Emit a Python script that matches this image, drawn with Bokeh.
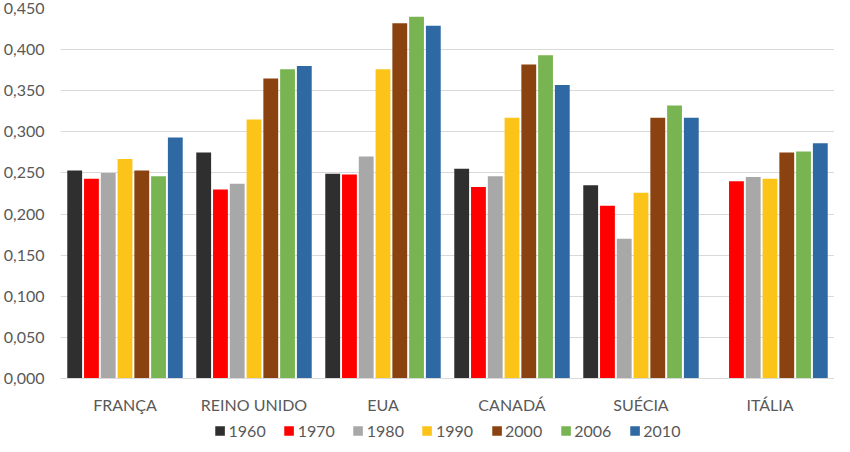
import math
from bokeh.plotting import figure
from bokeh.layouts import column
from bokeh.models import (ColumnDataSource, FactorRange, FixedTicker, Range1d,
                          CustomJSTickFormatter, Legend, LegendItem)
from bokeh.transform import dodge
from bokeh.embed import file_html
from bokeh.resources import INLINE

nan = float("nan")

countries = ["FRANÇA", "REINO UNIDO", "EUA", "CANADÁ", "SUÉCIA", "ITÁLIA"]
years = ["1960", "1970", "1980", "1990", "2000", "2006", "2010"]

v1960 = [0.253, 0.275, 0.249, 0.255, 0.235, nan]
v1970 = [0.243, 0.230, 0.248, 0.233, 0.210, 0.240]
v1980 = [0.250, 0.237, 0.270, 0.246, 0.170, 0.245]
v1990 = [0.267, 0.315, 0.376, 0.317, 0.226, 0.243]
v2000 = [0.253, 0.365, 0.432, 0.382, 0.317, 0.275]
v2006 = [0.246, 0.376, 0.440, 0.393, 0.332, 0.276]
v2010 = [0.293, 0.380, 0.429, 0.357, 0.317, 0.286]

y_ticks = [0.0, 0.05, 0.10, 0.15, 0.20, 0.25, 0.30, 0.35, 0.40, 0.45]

colors = ["#2f2f2f", "#ff0000", "#a8a8a8", "#fcc419", "#8a4310", "#78b552", "#2f69a3"]

series = [v1960, v1970, v1980, v1990, v2000, v2006, v2010]
data = {"country": countries}
for y, s in zip(years, series):
    data["y" + y] = s
source = ColumnDataSource(data)

FONT = "Lato"
TXT = "#595959"

p = figure(x_range=FactorRange(*countries), y_range=Range1d(0, 0.45),
           width=834, height=416, output_backend="svg", toolbar_location=None,
           min_border_left=52, min_border_right=0, min_border_top=8, min_border_bottom=0)

step = 0.13
for i, (y, c) in enumerate(zip(years, colors)):
    p.vbar(x=dodge("country", (i - 3) * step, range=p.x_range), top="y" + y,
           width=0.115, source=source, fill_color=c, line_color=None)

p.outline_line_color = None
p.background_fill_color = "white"
p.border_fill_color = "white"

p.xgrid.grid_line_color = None
p.ygrid.grid_line_color = "#d9d9d9"
p.ygrid.grid_line_width = 1

p.yaxis.ticker = FixedTicker(ticks=y_ticks)
p.yaxis.formatter = CustomJSTickFormatter(code="return tick.toFixed(3).replace('.', ',');")
p.yaxis.axis_line_color = None
p.yaxis.major_tick_line_color = None
p.yaxis.minor_tick_line_color = None
p.yaxis.major_label_standoff = 10
p.yaxis.major_label_text_font = FONT
p.yaxis.major_label_text_font_size = "16px"
p.yaxis.major_label_text_color = TXT

p.xaxis.axis_line_color = "#d9d9d9"
p.xaxis.major_tick_line_color = None
p.xaxis.minor_tick_line_color = None
p.xaxis.major_tick_out = 0
p.xaxis.major_label_standoff = 16
p.xaxis.major_label_text_font = FONT
p.xaxis.major_label_text_font_size = "16px"
p.xaxis.major_label_text_color = TXT

# legend strip
pl = figure(width=834, height=28, output_backend="svg", toolbar_location=None,
            x_range=Range1d(0, 1), y_range=Range1d(0, 1),
            min_border=0)
pl.axis.visible = False
pl.grid.visible = False
pl.outline_line_color = None
items = []
for y, c in zip(years, colors):
    r = pl.vbar(x=[nan], top=[nan], width=0.1, fill_color=c, line_color=None)
    items.append(LegendItem(label=y, renderers=[r]))
legend = Legend(items=items, orientation="horizontal", location="center",
                label_text_font=FONT, label_text_font_size="16px", label_text_color=TXT,
                glyph_width=12, glyph_height=12, label_standoff=3, spacing=17,
                padding=0, margin=0, border_line_color=None, background_fill_alpha=0)
pl.add_layout(legend, "center")

layout = column(p, pl, spacing=0)
open("out.html", "w").write(file_html(layout, INLINE))
